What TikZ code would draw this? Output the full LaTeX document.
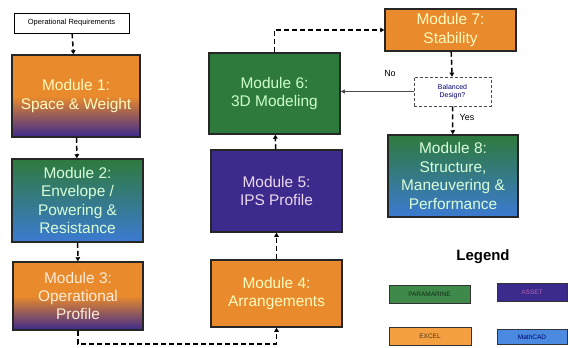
\documentclass[tikz,border=0pt]{standalone}
\usepackage{fontspec}
\setmainfont{Liberation Sans}
\usetikzlibrary{arrows.meta}
\definecolor{morange}{HTML}{E98A2C}
\definecolor{mpurple}{HTML}{3C2A8C}
\definecolor{mgreen}{HTML}{2E7A3C}
\definecolor{mblue}{HTML}{3C7AD2}
\definecolor{lgreen}{HTML}{3F8A4A}
\definecolor{lorange}{HTML}{F4A040}
\definecolor{lblue}{HTML}{4A8AE0}
\pgfdeclareverticalshading{orangepurple}{100bp}{color(0bp)=(mpurple); color(25bp)=(mpurple); color(50bp)=(morange); color(100bp)=(morange)}
\pgfdeclareverticalshading{greenblue}{100bp}{color(0bp)=(mblue); color(25bp)=(mblue); color(75bp)=(mgreen); color(100bp)=(mgreen)}
\begin{document}
\begin{tikzpicture}[x=1bp, y=1bp,
  mod/.style={draw=black!85, line width=1.5bp, inner sep=0pt, minimum width=131bp, minimum height=82bp, align=center, font=\fontsize{15.5}{18.5}\selectfont},
  flow/.style={draw=black, line width=1.5bp, dash pattern=on 5bp off 3bp, -{Triangle[length=4bp,width=4.5bp]}},
  leg/.style={draw=black!80, line width=1bp, inner sep=0pt, minimum height=18bp, font=\fontsize{6.5}{8}\selectfont}]
\useasboundingbox (0,0) rectangle (570,347);
% left column
\node[draw, line width=0.8bp, minimum width=115bp, minimum height=20bp, inner sep=0pt, font=\fontsize{7.5}{9}\selectfont] (req) at (71.5,324) {Operational Requirements};
\node[mod, shading=orangepurple, text=yellow!25, minimum width=128bp] (m1) at (76,251) {Module 1:\\Space \& Weight};
\node[mod, shading=greenblue, text=green!15, minimum height=83bp] (m2) at (77.5,146.5) {Module 2:\\Envelope /\\Powering \&\\Resistance};
\node[mod, shading=orangepurple, text=orange!15, minimum width=130bp, minimum height=68bp] (m3) at (78,51) {Module 3:\\Operational\\Profile};
% middle column
\node[mod, fill=morange, text=yellow!25, minimum height=67bp] (m4) at (276.5,53.5) {Module 4:\\Arrangements};
\node[mod, fill=mpurple, text=violet!15] (m5) at (276.5,156) {Module 5:\\IPS Profile};
\node[mod, fill=mgreen, text=green!20, minimum height=81bp] (m6) at (274.5,253.5) {Module 6:\\3D Modeling};
% right column
\node[mod, fill=morange, text=yellow!25, minimum height=42bp] (m7) at (450.5,317) {Module 7:\\Stability};
\node[draw=black!70, densely dashed, line width=0.7bp, minimum width=77bp, minimum height=29bp, inner sep=0pt, align=center, text=blue!45!black, font=\fontsize{7}{8.5}\selectfont] (bal) at (452.5,255.5) {Balanced\\Design?};
\node[mod, shading=greenblue, text=green!15, minimum width=130bp] (m8) at (453,171) {Module 8:\\Structure,\\Maneuvering \&\\Performance};
\node[font=\fontsize{9}{11}\selectfont] (no) at (390,274) {No};
\node[font=\fontsize{9}{11}\selectfont] (yes) at (467,230) {Yes};
% legend
\node[font=\bfseries\fontsize{15}{18}\selectfont] (legend) at (483,90) {Legend};
\node[leg, fill=lgreen, text=black!70!lgreen, minimum width=81bp] (paramarine) at (429.5,53) {PARAMARINE};
\node[leg, fill=mpurple, text=violet!60, minimum width=70bp] (asset) at (532,55) {ASSET};
\node[leg, fill=lorange, text=black!70!lorange, minimum width=82bp] (excel) at (430,11) {EXCEL};
\node[leg, fill=lblue, text=blue!40!black, minimum width=70bp, minimum height=15bp] (mathcad) at (532,10) {MathCAD};
% connectors
\draw[flow] (req) -- (m1);
\draw[flow] (m1) -- (m2);
\draw[flow] (m2) -- (m3);
\draw[flow] (m3.south) -- ++(0,-13) -| (m4.south);
\draw[flow] (m4) -- (m5);
\draw[flow] (m5) -- (m6);
\draw[flow] (m6.north) |- (m7.west);
\draw[flow] (m7) -- (bal);
\draw[black!70, line width=0.8bp, -{Triangle[length=4bp,width=4bp]}] (bal.west) -- (m6.east |- bal.west);
\draw[flow] (bal) -- (m8);
\end{tikzpicture}
\end{document}
